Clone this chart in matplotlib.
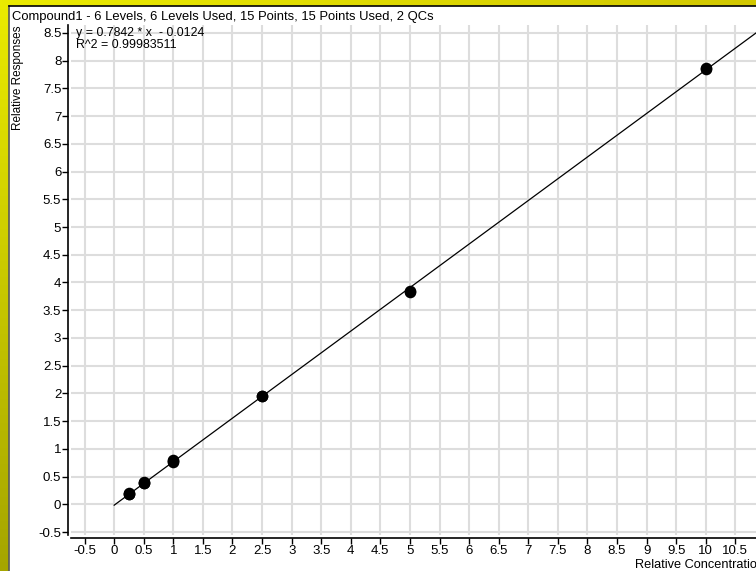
import numpy as np
import matplotlib.pyplot as plt

plt.rcParams['font.family'] = ['Liberation Sans', 'DejaVu Sans']

# calibration levels and replicate responses
levels = [0.25, 0.25, 0.25, 0.5, 0.5, 0.5, 1.0, 1.0, 1.0, 2.5, 2.5, 5.0, 5.0, 10.0, 10.0]
responses = [0.19, 0.19, 0.20, 0.38, 0.39, 0.40, 0.76, 0.78, 0.80, 1.95, 1.96, 3.82, 3.84, 7.85, 7.87]
slope, intercept = 0.7842, -0.0124
r2 = 0.99983511
fit_x = [0.0, 11.0]
title = 'Compound1 - 6 Levels, 6 Levels Used, 15 Points, 15 Points Used, 2 QCs'

W, H = 756, 571
fig = plt.figure(figsize=(W / 100, H / 100), dpi=100)

# yellow frame: gradient band on top and left
bg = fig.add_axes([0, 0, 1, 1])
bg.set_axis_off()
yy = np.linspace(0, 1, 200)[:, None]
xx = np.linspace(0, 1, 200)[None, :]
top_c = np.array([235, 235, 0]) / 255
low_c = np.array([165, 165, 0]) / 255
right_c = np.array([210, 200, 0]) / 255
img = np.zeros((200, 200, 3))
left_grad = top_c + (low_c - top_c) * yy[..., None]
top_grad = top_c + (right_c - top_c) * xx[..., None]
img[:] = left_grad
bg.imshow(img, extent=[0, W, H, 0], aspect='auto')
bg.imshow(np.broadcast_to(top_grad, (2, 200, 3)), extent=[0, W, 6, 0], aspect='auto')
bg.add_patch(plt.Rectangle((9, 6), W, H, color='white', zorder=3))
bg.plot([9, 9], [6, H], color='#555555', lw=1.2, zorder=4)
bg.plot([9, W], [6, 6], color='black', lw=1.2, zorder=4)
bg.set_xlim(0, W)
bg.set_ylim(H, 0)

x0, x1, y0, y1 = 71, W, 25, 535
ax = fig.add_axes([x0 / W, 1 - y1 / H, (x1 - x0) / W, (y1 - y0) / H])
ax.set_facecolor('none')
ax.set_xlim(-0.73, 10.85)
ax.set_ylim(-0.55, 8.64)
ax.set_xticks(np.arange(-0.5, 10.51, 0.5))
ax.set_yticks(np.arange(-0.5, 8.51, 0.5))
ax.set_xticklabels(['%g' % v for v in np.arange(-0.5, 10.51, 0.5)])
ax.set_yticklabels(['%g' % v for v in np.arange(-0.5, 8.51, 0.5)])
ax.grid(True, color='#dddddd', lw=1.5)
ax.set_axisbelow(True)
for s in ['top', 'right']:
    ax.spines[s].set_visible(False)
ax.spines['left'].set_position(('outward', 2))
ax.spines['bottom'].set_position(('outward', 2))
ax.spines['left'].set_linewidth(1.2)
ax.spines['bottom'].set_linewidth(1.2)
ax.tick_params(length=4, width=1, labelsize=9.5, pad=1)

fx = np.array(fit_x)
ax.plot(fx, slope * fx + intercept, color='black', lw=0.9)
ax.scatter(levels, responses, s=70, color='black', zorder=5, linewidths=0)

fig.text(12 / W, 1 - 17 / H, title, fontsize=9.4, va='center', ha='left')
fig.text(76 / W, 1 - 33 / H, 'y = 0.7842 * x  - 0.0124', fontsize=8.9, va='center')
fig.text(76 / W, 1 - 45 / H, 'R^2 = %.8f' % r2, fontsize=8.9, va='center')
fig.text(18 / W, 1 - 26 / H, 'Relative Responses', fontsize=8.5, rotation=90,
         ha='center', va='top')
fig.text(635 / W, 1 - 565 / H, 'Relative Concentration', fontsize=9.2,
         ha='left', va='center')

fig.savefig('out.png', dpi=100)
